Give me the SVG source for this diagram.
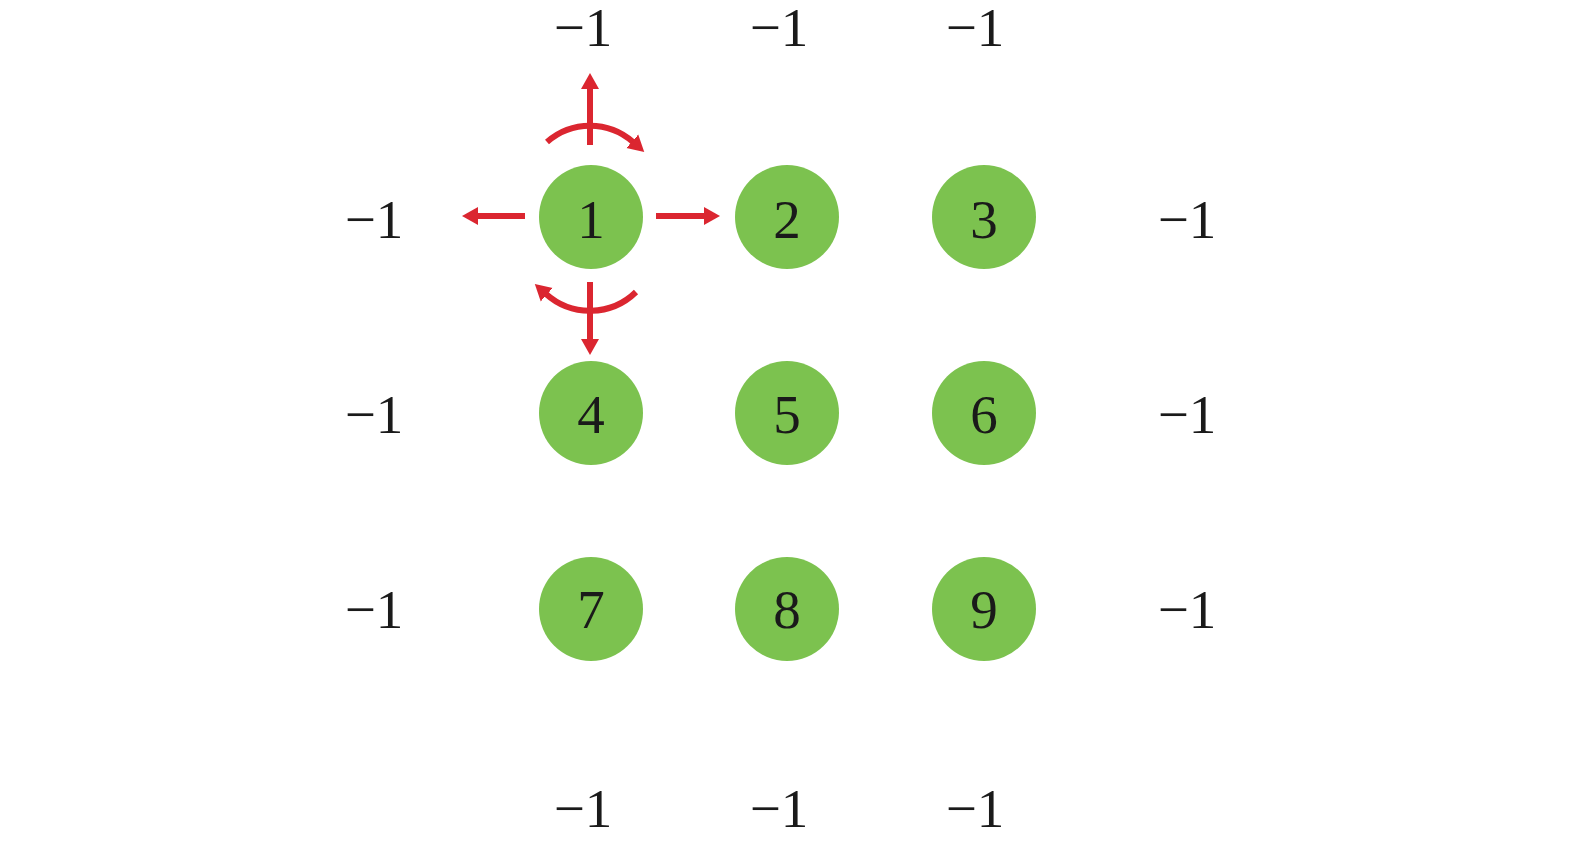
<svg xmlns="http://www.w3.org/2000/svg" width="1575" height="848" viewBox="0 0 1575 848">
<style>
.t{font-family:"Liberation Serif","Times New Roman",serif;font-size:55px;fill:#1a1a1a;text-anchor:middle}
.n{fill:#7cc24f}
.a{fill:none;stroke:#db2630;stroke-width:6}
</style>
<defs>
<marker id="ah" markerUnits="userSpaceOnUse" viewBox="0 -10 17 20" markerWidth="17" markerHeight="20" refX="1" refY="0" orient="auto">
<path d="M0,-9 L16,0 L0,9 z" fill="#db2630"/>
</marker>
</defs>
<rect width="1575" height="848" fill="#fff"/>
<g id="labels">
<text class="t" x="583" y="46">−1</text>
<text class="t" x="779" y="46">−1</text>
<text class="t" x="975" y="46">−1</text>
<text class="t" x="374" y="238">−1</text>
<text class="t" x="1187" y="238">−1</text>
<text class="t" x="374" y="433">−1</text>
<text class="t" x="1187" y="433">−1</text>
<text class="t" x="374" y="628">−1</text>
<text class="t" x="1187" y="628">−1</text>
<text class="t" x="583" y="827">−1</text>
<text class="t" x="779" y="827">−1</text>
<text class="t" x="975" y="827">−1</text>
</g>
<g id="node1"><circle class="n" cx="591" cy="217" r="52"/><text class="t" x="591" y="238">1</text></g>
<g id="node2"><circle class="n" cx="787" cy="217" r="52"/><text class="t" x="787" y="238">2</text></g>
<g id="node3"><circle class="n" cx="984" cy="217" r="52"/><text class="t" x="984" y="238">3</text></g>
<g id="node4"><circle class="n" cx="591" cy="413" r="52"/><text class="t" x="591" y="433">4</text></g>
<g id="node5"><circle class="n" cx="787" cy="413" r="52"/><text class="t" x="787" y="433">5</text></g>
<g id="node6"><circle class="n" cx="984" cy="413" r="52"/><text class="t" x="984" y="433">6</text></g>
<g id="node7"><circle class="n" cx="591" cy="609" r="52"/><text class="t" x="591" y="628">7</text></g>
<g id="node8"><circle class="n" cx="787" cy="609" r="52"/><text class="t" x="787" y="628">8</text></g>
<g id="node9"><circle class="n" cx="984" cy="609" r="52"/><text class="t" x="984" y="628">9</text></g>
<g id="connectors">
<line class="a" x1="590" y1="145" x2="590" y2="88" marker-end="url(#ah)"/>
<line class="a" x1="525" y1="216" x2="477" y2="216" marker-end="url(#ah)"/>
<line class="a" x1="656" y1="216" x2="705" y2="216" marker-end="url(#ah)"/>
<line class="a" x1="590" y1="282" x2="590" y2="340" marker-end="url(#ah)"/>
<path class="a" d="M547,142 A65,65 0 0,1 633,142" marker-end="url(#ah)"/>
<path class="a" d="M636,292 A66,66 0 0,1 546,294" marker-end="url(#ah)"/>
</g>
</svg>
